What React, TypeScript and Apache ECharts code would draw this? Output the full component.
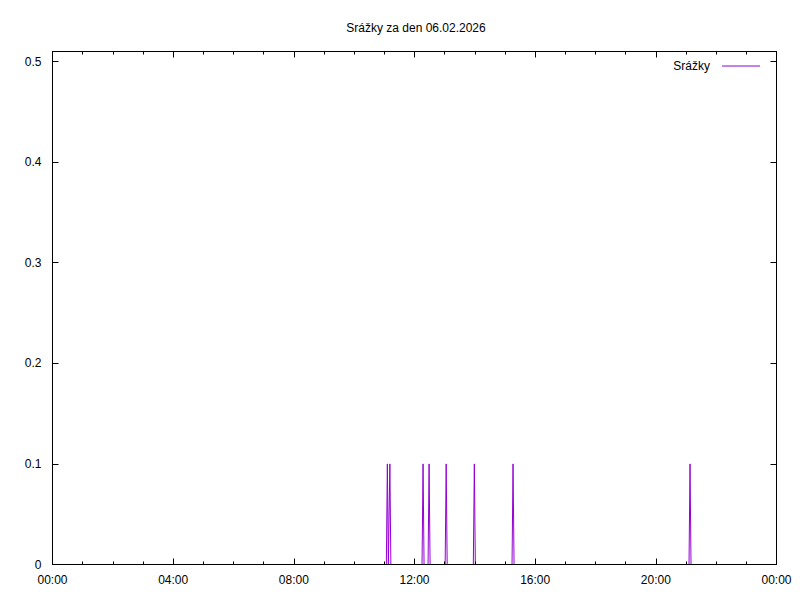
import React, { useEffect, useRef } from "react";
import * as echarts from "echarts";

const titleText = "Srážky za den 06.02.2026";
const seriesName = "Srážky";
// time of each sample (HH:MM) and precipitation value
const times = [
  "00:00",
  "11:04", "11:06", "11:08",
  "11:09", "11:11", "11:13",
  "12:15", "12:17", "12:19",
  "12:27", "12:29", "12:31",
  "13:01", "13:03", "13:05",
  "13:57", "13:59", "14:01",
  "15:14", "15:16", "15:18",
  "21:06", "21:08", "21:10",
  "23:59",
];
const values = [
  0,
  0, 0.1, 0,
  0, 0.1, 0,
  0, 0.1, 0,
  0, 0.1, 0,
  0, 0.1, 0,
  0, 0.1, 0,
  0, 0.1, 0,
  0, 0.1, 0,
  0,
];
const xTickLabels = ["00:00", "04:00", "08:00", "12:00", "16:00", "20:00", "00:00"];

const toHours = (s: string) => {
  const [h, m] = s.split(":").map(Number);
  return h + m / 60;
};

export default function App() {
  const ref = useRef<HTMLDivElement>(null);
  useEffect(() => {
    if (!ref.current) return;
    const chart = echarts.init(ref.current, null, { renderer: "svg" });
    const font = "Liberation Sans, Arial, sans-serif";
    const data = times.map((t, i) => [toHours(t), values[i]]);
    const axisLine = { show: true, onZero: false, lineStyle: { color: "#000", width: 1 } };
    chart.setOption({
      animation: false,
      backgroundColor: "#fff",
      title: {
        text: titleText,
        left: 411,
        top: 17,
        textAlign: "center",
        textStyle: { fontFamily: font, fontSize: 12, fontWeight: "normal", color: "#000" },
      },
      legend: {
        right: 40,
        top: 60,
        align: "right",
        padding: 0,
        itemWidth: 38,
        itemHeight: 1,
        icon: "rect",
        textStyle: { fontFamily: font, fontSize: 12, color: "#000", padding: [0, 7, 0, 0] },
        data: [seriesName],
      },
      grid: { left: 52.5, right: 23.5, top: 51.5, bottom: 35.5, containLabel: false },
      xAxis: [
        {
          type: "value",
          min: 0,
          max: 24,
          interval: 4,
          position: "bottom",
          z: 5,
          axisLine,
          axisTick: { show: true, inside: true, length: 6, lineStyle: { color: "#000" } },
          minorTick: { show: true, splitNumber: 4, length: 3, lineStyle: { color: "#000" } },
          splitLine: { show: false },
          axisLabel: {
            margin: 9,
            fontFamily: font,
            fontSize: 12,
            color: "#000",
            formatter: (v: number) => xTickLabels[Math.round(v / 4)] ?? "",
          },
        },
        {
          type: "value",
          min: 0,
          max: 24,
          interval: 4,
          position: "top",
          z: 5,
          axisLine,
          axisTick: { show: true, inside: true, length: 6, lineStyle: { color: "#000" } },
          minorTick: { show: true, splitNumber: 4, length: 3, lineStyle: { color: "#000" } },
          splitLine: { show: false },
          axisLabel: { show: false },
        },
      ],
      yAxis: [
        {
          type: "value",
          min: 0,
          max: 0.51,
          interval: 0.1,
          position: "left",
          z: 5,
          axisLine,
          axisTick: { show: true, inside: true, length: 6, lineStyle: { color: "#000" } },
          splitLine: { show: false },
          axisLabel: {
            margin: 11,
            showMaxLabel: false,
            fontFamily: font,
            fontSize: 12,
            color: "#000",
            formatter: (v: number) => (v === 0 ? "0" : String(Math.round(v * 10) / 10)),
          },
        },
        {
          type: "value",
          min: 0,
          max: 0.51,
          interval: 0.1,
          position: "right",
          z: 5,
          axisLine,
          axisTick: { show: true, inside: true, length: 6, lineStyle: { color: "#000" } },
          splitLine: { show: false },
          axisLabel: { show: false },
        },
      ],
      series: [
        {
          name: seriesName,
          type: "line",
          data,
          symbol: "none",
          color: "#9400d3",
          lineStyle: { color: "#9400d3", width: 1 },
          itemStyle: { color: "#9400d3" },
          z: 1,
        },
      ],
    });
    return () => chart.dispose();
  }, []);
  return <div ref={ref} style={{ width: 800, height: 600, position: "absolute", left: 0, top: 0 }} />;
}
